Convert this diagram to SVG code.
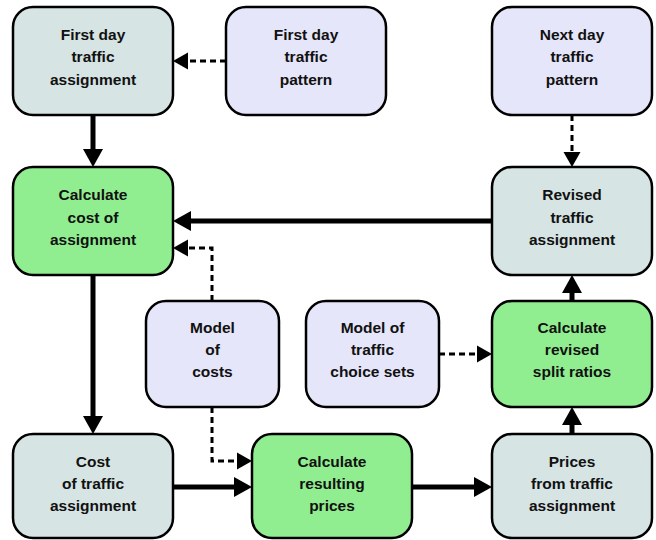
<svg xmlns="http://www.w3.org/2000/svg" width="656" height="540" viewBox="0 0 656 540">
<style>
.box{stroke:#000;stroke-width:2.5}
.grey{fill:#d6e4e4}
.lav{fill:#e6e6fa}
.green{fill:#90ee90}
text{font-family:"Liberation Sans",Arial,sans-serif;font-weight:bold;font-size:15.5px;text-anchor:middle;fill:#111}
.solid{fill:none;stroke:#000;stroke-width:5}
.dash{fill:none;stroke:#000;stroke-width:3;stroke-dasharray:6,4}
</style>
<defs>
<marker id="ah" markerUnits="userSpaceOnUse" markerWidth="18" markerHeight="20" refX="0" refY="10" orient="auto" overflow="visible">
<path d="M0,0 L18,10 L0,20 z" fill="#000"/>
</marker>
<marker id="dh" markerUnits="userSpaceOnUse" markerWidth="15" markerHeight="17" refX="0" refY="8.5" orient="auto" overflow="visible">
<path d="M0,0 L15,8.5 L0,17 z" fill="#000"/>
</marker>
</defs>
<g id="connectors">
<path class="dash" d="M226,61 H188" marker-end="url(#dh)"/>
<path class="solid" d="M93,115 V149" marker-end="url(#ah)"/>
<path class="solid" d="M492,221 H191" marker-end="url(#ah)"/>
<path class="dash" d="M212,301 V248 H188" marker-end="url(#dh)"/>
<path class="solid" d="M93,275 V416" marker-end="url(#ah)"/>
<path class="dash" d="M212,407 V461 H237" marker-end="url(#dh)"/>
<path class="solid" d="M173,487 H234" marker-end="url(#ah)"/>
<path class="solid" d="M412,487 H474" marker-end="url(#ah)"/>
<path class="solid" d="M572,434 V425" marker-end="url(#ah)"/>
<path class="solid" d="M572,301 V293" marker-end="url(#ah)"/>
<path class="dash" d="M439,354 H477" marker-end="url(#dh)"/>
<path class="dash" d="M572,115 V152" marker-end="url(#dh)"/>
</g>
<g id="n1"><rect class="box grey" x="13" y="7" width="160" height="108" rx="20"/>
<text x="93" y="39.5">First day</text><text x="93" y="62">traffic</text><text x="93" y="84.5">assignment</text></g>
<g id="n2"><rect class="box lav" x="226" y="7" width="160" height="108" rx="20"/>
<text x="306" y="39.5">First day</text><text x="306" y="62">traffic</text><text x="306" y="84.5">pattern</text></g>
<g id="n3"><rect class="box lav" x="492" y="7" width="160" height="108" rx="20"/>
<text x="572" y="39.5">Next day</text><text x="572" y="62">traffic</text><text x="572" y="84.5">pattern</text></g>
<g id="n4"><rect class="box green" x="13" y="167" width="160" height="108" rx="20"/>
<text x="93" y="200">Calculate</text><text x="93" y="222.5">cost of</text><text x="93" y="245">assignment</text></g>
<g id="n5"><rect class="box grey" x="492" y="167" width="160" height="108" rx="20"/>
<text x="572" y="200">Revised</text><text x="572" y="222.5">traffic</text><text x="572" y="245">assignment</text></g>
<g id="n6"><rect class="box lav" x="146" y="301" width="133" height="106" rx="20"/>
<text x="212.5" y="333">Model</text><text x="212.5" y="355">of</text><text x="212.5" y="377">costs</text></g>
<g id="n7"><rect class="box lav" x="306" y="301" width="133" height="106" rx="20"/>
<text x="372.5" y="333">Model of</text><text x="372.5" y="355">traffic</text><text x="372.5" y="377">choice sets</text></g>
<g id="n8"><rect class="box green" x="492" y="301" width="160" height="106" rx="20"/>
<text x="572" y="333">Calculate</text><text x="572" y="355">revised</text><text x="572" y="377">split ratios</text></g>
<g id="n9"><rect class="box grey" x="13" y="434" width="160" height="104" rx="20"/>
<text x="93" y="466.5">Cost</text><text x="93" y="488.5">of traffic</text><text x="93" y="510.5">assignment</text></g>
<g id="n10"><rect class="box green" x="252" y="434" width="160" height="104" rx="20"/>
<text x="332" y="466.5">Calculate</text><text x="332" y="488.5">resulting</text><text x="332" y="510.5">prices</text></g>
<g id="n11"><rect class="box grey" x="492" y="434" width="160" height="104" rx="20"/>
<text x="572" y="466.5">Prices</text><text x="572" y="488.5">from traffic</text><text x="572" y="510.5">assignment</text></g>
</svg>
